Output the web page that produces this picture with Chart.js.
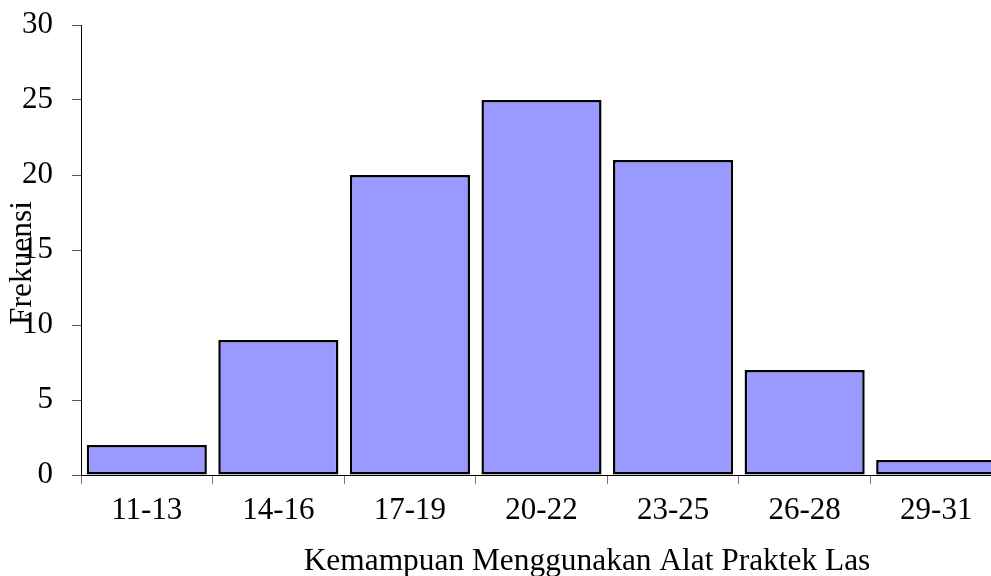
<!DOCTYPE html>
<html>
<head>
<meta charset="utf-8">
<script src="https://cdn.jsdelivr.net/npm/chart.js@4/dist/chart.umd.min.js"></script>
<style>
  html, body { margin: 0; padding: 0; background: #fff; overflow: hidden; }
  #wrap { width: 991px; height: 576px; overflow: hidden; }
  canvas { display: block; }
</style>
</head>
<body>
<div id="wrap"><canvas id="c" width="1004" height="576"></canvas></div>
<script>
// Score ranges and how many respondents fall into each
const categories = ['11-13', '14-16', '17-19', '20-22', '23-25', '26-28', '29-31'];
const frequencies = [2, 9, 20, 25, 21, 7, 1];
const yTitle = 'Frekuensi';
const xTitle = 'Kemampuan Menggunakan Alat Praktek Las';

const FONT = '"Liberation Serif", "Times New Roman", serif';

// Axis titles: the vertical one sits over the tick labels, the horizontal one below the categories
const axisTitles = {
  id: 'axisTitles',
  afterDraw(chart) {
    const ctx = chart.ctx;
    ctx.save();
    ctx.fillStyle = '#000';
    ctx.font = '31.4px ' + FONT;
    ctx.textAlign = 'center';
    ctx.textBaseline = 'middle';
    ctx.fillText(xTitle, 587, 562);
    ctx.translate(23, 263);
    ctx.rotate(-Math.PI / 2);
    ctx.fillText(yTitle, 0, 0);
    ctx.restore();
  }
};

new Chart(document.getElementById('c'), {
  type: 'bar',
  data: {
    labels: categories,
    datasets: [{
      data: frequencies,
      backgroundColor: '#9999FF',
      borderColor: '#000',
      borderWidth: 2.5,
      borderSkipped: false,
      barPercentage: 0.913,
      categoryPercentage: 1.0
    }]
  },
  options: {
    responsive: false,
    animation: false,
    devicePixelRatio: 1,
    layout: { padding: { top: 25, right: 2, bottom: 0, left: 0 } },
    plugins: { legend: { display: false }, tooltip: { enabled: false } },
    scales: {
      x: {
        offset: true,
        grid: { offset: true, drawOnChartArea: false, drawTicks: true, tickLength: 9, color: '#777', lineWidth: 1 },
        border: { display: true, color: '#000', width: 1 },
        ticks: { color: '#000', font: { family: FONT, size: 31 }, padding: 8, maxRotation: 0 },
        afterFit(scale) {
          scale.height = 101;
          scale.paddingLeft = 0;
          scale.paddingRight = 0;
        }
      },
      y: {
        min: 0, max: 30,
        ticks: { stepSize: 5, color: '#000', font: { family: FONT, size: 31 }, padding: 19 },
        grid: { drawOnChartArea: false, drawTicks: true, tickLength: 9, color: '#555', lineWidth: 1 },
        border: { display: true, color: '#000', width: 1 },
        afterFit(scale) {
          scale.width = 81;
          scale.paddingTop = 0;
          scale.paddingBottom = 0;
        }
      }
    }
  },
  plugins: [axisTitles]
});
</script>
</body>
</html>
